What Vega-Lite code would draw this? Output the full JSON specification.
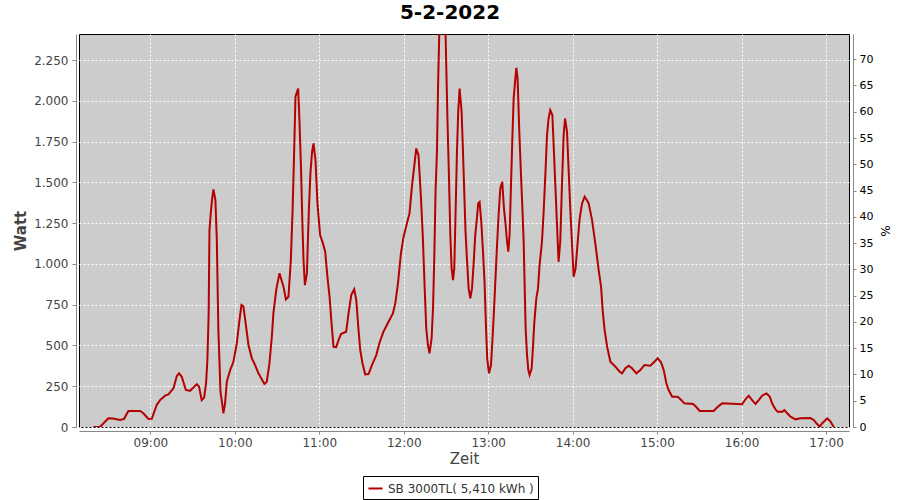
{
  "$schema": "https://vega.github.io/schema/vega-lite/v6.json",
  "width": 770,
  "height": 393,
  "autosize": {"type": "none"},
  "padding": {"left": 79, "top": 34, "right": 51, "bottom": 73},
  "background": "white",
  "title": {
    "text": "5-2-2022",
    "fontSize": 20,
    "fontWeight": "bold",
    "font": "DejaVu Sans",
    "color": "black",
    "anchor": "middle",
    "frame": "group",
    "dx": -14,
    "offset": 11
  },
  "config": {
    "font": "DejaVu Sans",
    "view": {"fill": "#cccccc", "stroke": "black", "strokeWidth": 1},
    "axis": {
      "gridColor": "white",
      "gridDash": [2, 2],
      "gridOpacity": 1,
      "gridWidth": 1,
      "domainColor": "#888888",
      "tickColor": "#888888",
      "labelFont": "DejaVu Sans",
      "titleFont": "DejaVu Sans"
    }
  },
  "datasets": {
    "watt": [
      {"t": "2022-02-05T08:19:30", "w": 0},
      {"t": "2022-02-05T08:24:12", "w": 0},
      {"t": "2022-02-05T08:30:06", "w": 53},
      {"t": "2022-02-05T08:33:30", "w": 52},
      {"t": "2022-02-05T08:38:30", "w": 43},
      {"t": "2022-02-05T08:41:18", "w": 50},
      {"t": "2022-02-05T08:44:24", "w": 98},
      {"t": "2022-02-05T08:52:42", "w": 98},
      {"t": "2022-02-05T08:55:00", "w": 84},
      {"t": "2022-02-05T08:58:36", "w": 49},
      {"t": "2022-02-05T09:01:00", "w": 50},
      {"t": "2022-02-05T09:04:30", "w": 135},
      {"t": "2022-02-05T09:06:54", "w": 165},
      {"t": "2022-02-05T09:10:30", "w": 192},
      {"t": "2022-02-05T09:12:48", "w": 200},
      {"t": "2022-02-05T09:16:24", "w": 237},
      {"t": "2022-02-05T09:18:48", "w": 313},
      {"t": "2022-02-05T09:20:24", "w": 329},
      {"t": "2022-02-05T09:22:18", "w": 308},
      {"t": "2022-02-05T09:25:12", "w": 227},
      {"t": "2022-02-05T09:28:12", "w": 222},
      {"t": "2022-02-05T09:33:00", "w": 263},
      {"t": "2022-02-05T09:34:36", "w": 247},
      {"t": "2022-02-05T09:36:30", "w": 165},
      {"t": "2022-02-05T09:38:12", "w": 180},
      {"t": "2022-02-05T09:39:36", "w": 270},
      {"t": "2022-02-05T09:40:30", "w": 411},
      {"t": "2022-02-05T09:41:24", "w": 687},
      {"t": "2022-02-05T09:42:00", "w": 1208},
      {"t": "2022-02-05T09:42:54", "w": 1310},
      {"t": "2022-02-05T09:43:54", "w": 1402},
      {"t": "2022-02-05T09:44:48", "w": 1457},
      {"t": "2022-02-05T09:46:12", "w": 1391},
      {"t": "2022-02-05T09:47:12", "w": 1150},
      {"t": "2022-02-05T09:48:18", "w": 595},
      {"t": "2022-02-05T09:49:00", "w": 423},
      {"t": "2022-02-05T09:49:48", "w": 216},
      {"t": "2022-02-05T09:50:48", "w": 155},
      {"t": "2022-02-05T09:51:54", "w": 84},
      {"t": "2022-02-05T09:53:06", "w": 147},
      {"t": "2022-02-05T09:54:18", "w": 278},
      {"t": "2022-02-05T09:56:42", "w": 349},
      {"t": "2022-02-05T09:59:00", "w": 400},
      {"t": "2022-02-05T10:01:24", "w": 513},
      {"t": "2022-02-05T10:03:18", "w": 656},
      {"t": "2022-02-05T10:04:42", "w": 748},
      {"t": "2022-02-05T10:06:06", "w": 740},
      {"t": "2022-02-05T10:08:00", "w": 615},
      {"t": "2022-02-05T10:09:42", "w": 503},
      {"t": "2022-02-05T10:12:06", "w": 421},
      {"t": "2022-02-05T10:14:24", "w": 380},
      {"t": "2022-02-05T10:16:48", "w": 329},
      {"t": "2022-02-05T10:21:00", "w": 264},
      {"t": "2022-02-05T10:22:42", "w": 278},
      {"t": "2022-02-05T10:24:36", "w": 390},
      {"t": "2022-02-05T10:26:18", "w": 554},
      {"t": "2022-02-05T10:27:24", "w": 697},
      {"t": "2022-02-05T10:29:24", "w": 840},
      {"t": "2022-02-05T10:31:42", "w": 942},
      {"t": "2022-02-05T10:34:36", "w": 860},
      {"t": "2022-02-05T10:36:18", "w": 783},
      {"t": "2022-02-05T10:38:06", "w": 799},
      {"t": "2022-02-05T10:39:48", "w": 1024},
      {"t": "2022-02-05T10:41:00", "w": 1320},
      {"t": "2022-02-05T10:42:00", "w": 1637},
      {"t": "2022-02-05T10:43:06", "w": 2025},
      {"t": "2022-02-05T10:45:00", "w": 2076},
      {"t": "2022-02-05T10:45:54", "w": 1882},
      {"t": "2022-02-05T10:47:06", "w": 1565},
      {"t": "2022-02-05T10:48:00", "w": 1249},
      {"t": "2022-02-05T10:48:48", "w": 1024},
      {"t": "2022-02-05T10:49:48", "w": 870},
      {"t": "2022-02-05T10:51:12", "w": 942},
      {"t": "2022-02-05T10:52:36", "w": 1330},
      {"t": "2022-02-05T10:53:42", "w": 1555},
      {"t": "2022-02-05T10:54:54", "w": 1688},
      {"t": "2022-02-05T10:55:54", "w": 1739},
      {"t": "2022-02-05T10:57:18", "w": 1637},
      {"t": "2022-02-05T10:58:42", "w": 1371},
      {"t": "2022-02-05T11:00:36", "w": 1177},
      {"t": "2022-02-05T11:02:36", "w": 1126},
      {"t": "2022-02-05T11:04:12", "w": 1075},
      {"t": "2022-02-05T11:05:48", "w": 921},
      {"t": "2022-02-05T11:07:18", "w": 799},
      {"t": "2022-02-05T11:08:42", "w": 636},
      {"t": "2022-02-05T11:10:06", "w": 492},
      {"t": "2022-02-05T11:12:00", "w": 490},
      {"t": "2022-02-05T11:13:42", "w": 533},
      {"t": "2022-02-05T11:15:24", "w": 570},
      {"t": "2022-02-05T11:19:06", "w": 584},
      {"t": "2022-02-05T11:20:48", "w": 697},
      {"t": "2022-02-05T11:22:42", "w": 809},
      {"t": "2022-02-05T11:24:48", "w": 844},
      {"t": "2022-02-05T11:26:18", "w": 778},
      {"t": "2022-02-05T11:27:42", "w": 615},
      {"t": "2022-02-05T11:29:06", "w": 472},
      {"t": "2022-02-05T11:30:42", "w": 390},
      {"t": "2022-02-05T11:32:36", "w": 323},
      {"t": "2022-02-05T11:35:00", "w": 325},
      {"t": "2022-02-05T11:37:24", "w": 380},
      {"t": "2022-02-05T11:40:30", "w": 441},
      {"t": "2022-02-05T11:42:48", "w": 517},
      {"t": "2022-02-05T11:45:36", "w": 584},
      {"t": "2022-02-05T11:49:12", "w": 645},
      {"t": "2022-02-05T11:52:18", "w": 697},
      {"t": "2022-02-05T11:54:00", "w": 758},
      {"t": "2022-02-05T11:55:54", "w": 881},
      {"t": "2022-02-05T11:58:00", "w": 1064},
      {"t": "2022-02-05T11:59:54", "w": 1167},
      {"t": "2022-02-05T12:02:18", "w": 1249},
      {"t": "2022-02-05T12:04:06", "w": 1310},
      {"t": "2022-02-05T12:05:48", "w": 1473},
      {"t": "2022-02-05T12:07:42", "w": 1616},
      {"t": "2022-02-05T12:08:54", "w": 1708},
      {"t": "2022-02-05T12:10:30", "w": 1667},
      {"t": "2022-02-05T12:12:12", "w": 1412},
      {"t": "2022-02-05T12:13:36", "w": 1157},
      {"t": "2022-02-05T12:14:48", "w": 870},
      {"t": "2022-02-05T12:16:00", "w": 605},
      {"t": "2022-02-05T12:17:12", "w": 503},
      {"t": "2022-02-05T12:18:18", "w": 452},
      {"t": "2022-02-05T12:19:48", "w": 544},
      {"t": "2022-02-05T12:20:48", "w": 728},
      {"t": "2022-02-05T12:21:42", "w": 1034},
      {"t": "2022-02-05T12:22:36", "w": 1442},
      {"t": "2022-02-05T12:23:36", "w": 1688},
      {"t": "2022-02-05T12:24:30", "w": 2138},
      {"t": "2022-02-05T12:25:30", "w": 2500},
      {"t": "2022-02-05T12:29:30", "w": 2500},
      {"t": "2022-02-05T12:30:12", "w": 2219},
      {"t": "2022-02-05T12:31:06", "w": 1872},
      {"t": "2022-02-05T12:32:06", "w": 1545},
      {"t": "2022-02-05T12:33:06", "w": 1177},
      {"t": "2022-02-05T12:34:00", "w": 973},
      {"t": "2022-02-05T12:35:00", "w": 901},
      {"t": "2022-02-05T12:35:54", "w": 973},
      {"t": "2022-02-05T12:36:48", "w": 1300},
      {"t": "2022-02-05T12:37:48", "w": 1688},
      {"t": "2022-02-05T12:38:42", "w": 1933},
      {"t": "2022-02-05T12:39:42", "w": 2076},
      {"t": "2022-02-05T12:41:06", "w": 1933},
      {"t": "2022-02-05T12:42:06", "w": 1688},
      {"t": "2022-02-05T12:43:00", "w": 1442},
      {"t": "2022-02-05T12:43:54", "w": 1197},
      {"t": "2022-02-05T12:44:54", "w": 1034},
      {"t": "2022-02-05T12:46:06", "w": 850},
      {"t": "2022-02-05T12:47:18", "w": 789},
      {"t": "2022-02-05T12:48:30", "w": 850},
      {"t": "2022-02-05T12:49:36", "w": 993},
      {"t": "2022-02-05T12:50:48", "w": 1177},
      {"t": "2022-02-05T12:52:00", "w": 1279},
      {"t": "2022-02-05T12:52:54", "w": 1371},
      {"t": "2022-02-05T12:53:54", "w": 1380},
      {"t": "2022-02-05T12:55:06", "w": 1258},
      {"t": "2022-02-05T12:56:18", "w": 1075},
      {"t": "2022-02-05T12:57:24", "w": 891},
      {"t": "2022-02-05T12:58:24", "w": 625},
      {"t": "2022-02-05T12:59:18", "w": 421},
      {"t": "2022-02-05T13:00:36", "w": 329},
      {"t": "2022-02-05T13:02:00", "w": 380},
      {"t": "2022-02-05T13:03:06", "w": 544},
      {"t": "2022-02-05T13:04:18", "w": 748},
      {"t": "2022-02-05T13:05:18", "w": 932},
      {"t": "2022-02-05T13:06:18", "w": 1116},
      {"t": "2022-02-05T13:07:24", "w": 1300},
      {"t": "2022-02-05T13:08:36", "w": 1463},
      {"t": "2022-02-05T13:10:00", "w": 1504},
      {"t": "2022-02-05T13:11:12", "w": 1341},
      {"t": "2022-02-05T13:12:24", "w": 1238},
      {"t": "2022-02-05T13:13:24", "w": 1136},
      {"t": "2022-02-05T13:14:18", "w": 1075},
      {"t": "2022-02-05T13:15:12", "w": 1177},
      {"t": "2022-02-05T13:16:12", "w": 1483},
      {"t": "2022-02-05T13:17:06", "w": 1749},
      {"t": "2022-02-05T13:18:06", "w": 2015},
      {"t": "2022-02-05T13:19:18", "w": 2138},
      {"t": "2022-02-05T13:20:00", "w": 2203},
      {"t": "2022-02-05T13:20:54", "w": 2138},
      {"t": "2022-02-05T13:22:06", "w": 1810},
      {"t": "2022-02-05T13:23:18", "w": 1545},
      {"t": "2022-02-05T13:24:18", "w": 1341},
      {"t": "2022-02-05T13:25:12", "w": 1136},
      {"t": "2022-02-05T13:25:54", "w": 870},
      {"t": "2022-02-05T13:26:36", "w": 605},
      {"t": "2022-02-05T13:27:36", "w": 441},
      {"t": "2022-02-05T13:28:30", "w": 349},
      {"t": "2022-02-05T13:29:24", "w": 319},
      {"t": "2022-02-05T13:30:54", "w": 360},
      {"t": "2022-02-05T13:31:54", "w": 503},
      {"t": "2022-02-05T13:32:48", "w": 645},
      {"t": "2022-02-05T13:34:12", "w": 789},
      {"t": "2022-02-05T13:35:24", "w": 850},
      {"t": "2022-02-05T13:36:30", "w": 993},
      {"t": "2022-02-05T13:38:12", "w": 1136},
      {"t": "2022-02-05T13:39:24", "w": 1320},
      {"t": "2022-02-05T13:40:36", "w": 1545},
      {"t": "2022-02-05T13:41:48", "w": 1790},
      {"t": "2022-02-05T13:42:54", "w": 1892},
      {"t": "2022-02-05T13:44:06", "w": 1943},
      {"t": "2022-02-05T13:45:36", "w": 1913},
      {"t": "2022-02-05T13:46:30", "w": 1729},
      {"t": "2022-02-05T13:47:42", "w": 1483},
      {"t": "2022-02-05T13:48:54", "w": 1238},
      {"t": "2022-02-05T13:50:00", "w": 1013},
      {"t": "2022-02-05T13:51:12", "w": 1136},
      {"t": "2022-02-05T13:52:24", "w": 1483},
      {"t": "2022-02-05T13:53:36", "w": 1790},
      {"t": "2022-02-05T13:54:36", "w": 1892},
      {"t": "2022-02-05T13:56:00", "w": 1810},
      {"t": "2022-02-05T13:57:06", "w": 1586},
      {"t": "2022-02-05T13:58:18", "w": 1341},
      {"t": "2022-02-05T13:59:36", "w": 1116},
      {"t": "2022-02-05T14:00:42", "w": 921},
      {"t": "2022-02-05T14:02:06", "w": 973},
      {"t": "2022-02-05T14:03:36", "w": 1136},
      {"t": "2022-02-05T14:05:00", "w": 1279},
      {"t": "2022-02-05T14:06:42", "w": 1371},
      {"t": "2022-02-05T14:08:30", "w": 1412},
      {"t": "2022-02-05T14:10:12", "w": 1391},
      {"t": "2022-02-05T14:11:24", "w": 1371},
      {"t": "2022-02-05T14:13:48", "w": 1269},
      {"t": "2022-02-05T14:16:06", "w": 1126},
      {"t": "2022-02-05T14:18:30", "w": 962},
      {"t": "2022-02-05T14:20:12", "w": 860},
      {"t": "2022-02-05T14:21:18", "w": 717},
      {"t": "2022-02-05T14:22:42", "w": 595},
      {"t": "2022-02-05T14:24:30", "w": 492},
      {"t": "2022-02-05T14:26:48", "w": 400},
      {"t": "2022-02-05T14:30:24", "w": 370},
      {"t": "2022-02-05T14:33:24", "w": 339},
      {"t": "2022-02-05T14:35:06", "w": 329},
      {"t": "2022-02-05T14:37:30", "w": 360},
      {"t": "2022-02-05T14:39:48", "w": 376},
      {"t": "2022-02-05T14:42:12", "w": 360},
      {"t": "2022-02-05T14:45:18", "w": 329},
      {"t": "2022-02-05T14:48:06", "w": 349},
      {"t": "2022-02-05T14:51:00", "w": 380},
      {"t": "2022-02-05T14:55:12", "w": 376},
      {"t": "2022-02-05T14:58:06", "w": 400},
      {"t": "2022-02-05T15:00:24", "w": 421},
      {"t": "2022-02-05T15:02:48", "w": 397},
      {"t": "2022-02-05T15:04:42", "w": 349},
      {"t": "2022-02-05T15:06:36", "w": 268},
      {"t": "2022-02-05T15:08:12", "w": 227},
      {"t": "2022-02-05T15:10:42", "w": 186},
      {"t": "2022-02-05T15:14:36", "w": 186},
      {"t": "2022-02-05T15:16:36", "w": 170},
      {"t": "2022-02-05T15:19:24", "w": 145},
      {"t": "2022-02-05T15:25:36", "w": 141},
      {"t": "2022-02-05T15:28:00", "w": 121},
      {"t": "2022-02-05T15:30:18", "w": 98},
      {"t": "2022-02-05T15:40:12", "w": 98},
      {"t": "2022-02-05T15:42:42", "w": 121},
      {"t": "2022-02-05T15:46:12", "w": 145},
      {"t": "2022-02-05T16:00:24", "w": 139},
      {"t": "2022-02-05T16:02:48", "w": 170},
      {"t": "2022-02-05T16:05:06", "w": 192},
      {"t": "2022-02-05T16:07:30", "w": 165},
      {"t": "2022-02-05T16:09:54", "w": 141},
      {"t": "2022-02-05T16:12:12", "w": 165},
      {"t": "2022-02-05T16:14:36", "w": 192},
      {"t": "2022-02-05T16:17:42", "w": 206},
      {"t": "2022-02-05T16:20:00", "w": 186},
      {"t": "2022-02-05T16:21:42", "w": 145},
      {"t": "2022-02-05T16:24:06", "w": 108},
      {"t": "2022-02-05T16:25:42", "w": 94},
      {"t": "2022-02-05T16:28:54", "w": 94},
      {"t": "2022-02-05T16:30:30", "w": 104},
      {"t": "2022-02-05T16:32:24", "w": 84},
      {"t": "2022-02-05T16:34:48", "w": 63},
      {"t": "2022-02-05T16:38:18", "w": 47},
      {"t": "2022-02-05T16:41:54", "w": 53},
      {"t": "2022-02-05T16:48:54", "w": 55},
      {"t": "2022-02-05T16:51:18", "w": 43},
      {"t": "2022-02-05T16:53:42", "w": 18},
      {"t": "2022-02-05T16:55:36", "w": 2},
      {"t": "2022-02-05T16:57:18", "w": 23},
      {"t": "2022-02-05T17:00:54", "w": 53},
      {"t": "2022-02-05T17:03:12", "w": 33},
      {"t": "2022-02-05T17:05:06", "w": 6},
      {"t": "2022-02-05T17:05:36", "w": 0}
    ]
  },
  "layer": [
    {
      "data": {"name": "watt"},
      "transform": [{"calculate": "'SB 3000TL( 5,410 kWh )'", "as": "series"}],
      "mark": {"type": "line", "strokeWidth": 2, "clip": true, "interpolate": "linear"},
      "encoding": {
        "x": {
          "field": "t",
          "type": "temporal",
          "scale": {
            "domain": [
              {"year": 2022, "month": 2, "date": 5, "hours": 8, "minutes": 9, "seconds": 18},
              {"year": 2022, "month": 2, "date": 5, "hours": 17, "minutes": 16, "seconds": 20}
            ]
          },
          "axis": {
            "title": "Zeit",
            "format": "%H:%M",
            "values": [
              {"year": 2022, "month": 2, "date": 5, "hours": 9},
              {"year": 2022, "month": 2, "date": 5, "hours": 10},
              {"year": 2022, "month": 2, "date": 5, "hours": 11},
              {"year": 2022, "month": 2, "date": 5, "hours": 12},
              {"year": 2022, "month": 2, "date": 5, "hours": 13},
              {"year": 2022, "month": 2, "date": 5, "hours": 14},
              {"year": 2022, "month": 2, "date": 5, "hours": 15},
              {"year": 2022, "month": 2, "date": 5, "hours": 16},
              {"year": 2022, "month": 2, "date": 5, "hours": 17}
            ],
            "offset": 4,
            "tickSize": 3,
            "labelFontSize": 12,
            "labelColor": "#444444",
            "labelPadding": 3,
            "labelFlush": false,
            "titleFontSize": 15,
            "titleFontWeight": "normal",
            "titleColor": "#444444",
            "titlePadding": 3
          }
        },
        "y": {
          "field": "w",
          "type": "quantitative",
          "scale": {"domain": [0, 2410], "nice": false, "zero": true},
          "axis": {
            "title": "Watt",
            "values": [0, 250, 500, 750, 1000, 1250, 1500, 1750, 2000, 2250],
            "labelExpr": "replace(format(datum.value, ','), ',', '.')",
            "offset": 3,
            "tickSize": 4,
            "labelFontSize": 12,
            "labelColor": "#444444",
            "labelPadding": 4,
            "titleFontSize": 15,
            "titleFontWeight": "bold",
            "titleColor": "#444444",
            "titlePadding": 5
          }
        },
        "color": {
          "field": "series",
          "type": "nominal",
          "scale": {"range": ["#b40000"]},
          "legend": {
            "title": null,
            "orient": "none",
            "legendX": 284,
            "legendY": 442,
            "symbolType": "stroke",
            "symbolSize": 200,
            "symbolStrokeWidth": 2,
            "labelFontSize": 12,
            "labelColor": "#333333",
            "labelFont": "DejaVu Sans",
            "strokeColor": "black",
            "fillColor": "white",
            "padding": 4,
            "labelOffset": 4
          }
        }
      }
    },
    {
      "data": {"values": [{"p": 0}]},
      "mark": {"type": "rule", "opacity": 0},
      "encoding": {
        "y": {
          "field": "p",
          "type": "quantitative",
          "scale": {"domain": [0, 74.8], "nice": false, "zero": true},
          "axis": {
            "title": "%",
            "orient": "right",
            "grid": false,
            "values": [0, 5, 10, 15, 20, 25, 30, 35, 40, 45, 50, 55, 60, 65, 70],
            "offset": 4,
            "tickSize": 3,
            "labelFontSize": 11,
            "labelColor": "black",
            "labelPadding": 3,
            "titleFontSize": 12,
            "titleFontWeight": "normal",
            "titleColor": "black",
            "titlePadding": 5
          }
        }
      }
    }
  ],
  "resolve": {"scale": {"y": "independent"}}
}
